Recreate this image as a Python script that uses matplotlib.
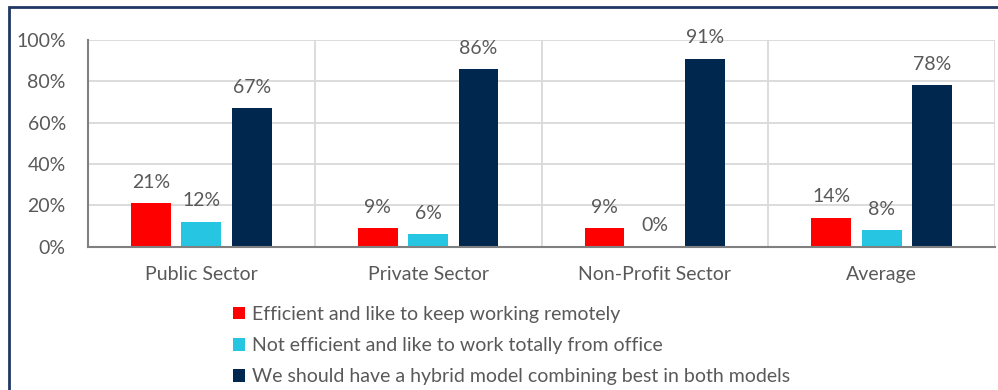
import numpy as np
import matplotlib.pyplot as plt
from matplotlib.patches import Patch, Rectangle

# Survey results by sector
categories = ['Public Sector', 'Private Sector', 'Non-Profit Sector', 'Average']
series_names = [
    'Efficient and like to keep working remotely',
    'Not efficient and like to work totally from office',
    'We should have a hybrid model combining best in both models',
]
remote = [21, 9, 9, 14]
office = [12, 6, 0, 8]
hybrid = [67, 86, 91, 78]
yticks = [0, 20, 40, 60, 80, 100]

colors = ['#FF0000', '#26C6E2', '#00284F']
text_color = '#595959'
plt.rcParams['font.family'] = ['Lato', 'DejaVu Sans']
fs = 14

W, H = 998, 390
fig = plt.figure(figsize=(W / 100, H / 100), dpi=100)
ax = fig.add_axes([88 / W, 1 - 246.5 / H, (995 - 88) / W, (246.5 - 40) / H])

x = np.arange(len(categories))
width = 0.176
step = 0.222
for i, (vals, c) in enumerate(zip([remote, office, hybrid], colors)):
    pos = x + (i - 1) * step
    ax.bar(pos, vals, width=width, color=c, zorder=3)
    for p, v in zip(pos, vals):
        ax.text(p, v + 6, f'{v}%', ha='center', va='bottom',
                fontsize=fs, color=text_color)

ax.set_xlim(-0.5, len(categories) - 0.5)
ax.set_ylim(0, 100)
ax.set_yticks(yticks)
ax.set_yticklabels([f'{t}%' for t in yticks])
ax.set_xticks(x)
ax.set_xticklabels(categories)
ax.tick_params(axis='both', length=0, labelsize=fs, colors=text_color)
ax.tick_params(axis='x', pad=14)
ax.tick_params(axis='y', pad=16)

# grid: horizontal at each tick, vertical at category boundaries
ax.yaxis.grid(True, color='#D9D9D9', linewidth=1.3, zorder=0)
for b in np.arange(len(categories) + 1) - 0.5:
    ax.axvline(b, color='#D9D9D9', linewidth=1.3, zorder=0)

for s in ['top', 'right']:
    ax.spines[s].set_visible(False)
for s in ['left', 'bottom']:
    ax.spines[s].set_color('#808080')
    ax.spines[s].set_linewidth(1.5)
    ax.spines[s].set_zorder(4)

handles = [Patch(facecolor=c, edgecolor='none') for c in colors]
fig.legend(handles, series_names, loc='upper left',
           bbox_to_anchor=(233 / W, 1 - 306 / H), frameon=False,
           fontsize=fs, labelcolor=text_color, handlelength=0.6,
           handleheight=0.6, handletextpad=0.4, labelspacing=0.73,
           borderpad=0, borderaxespad=0)

# outer frame
fig.patches.append(Rectangle((8.5 / W, -0.1), 1.1, (H - 6.5) / H + 0.1,
                             transform=fig.transFigure, fill=False,
                             edgecolor='#1F3864', linewidth=2))

fig.savefig('out.png', dpi=100)
